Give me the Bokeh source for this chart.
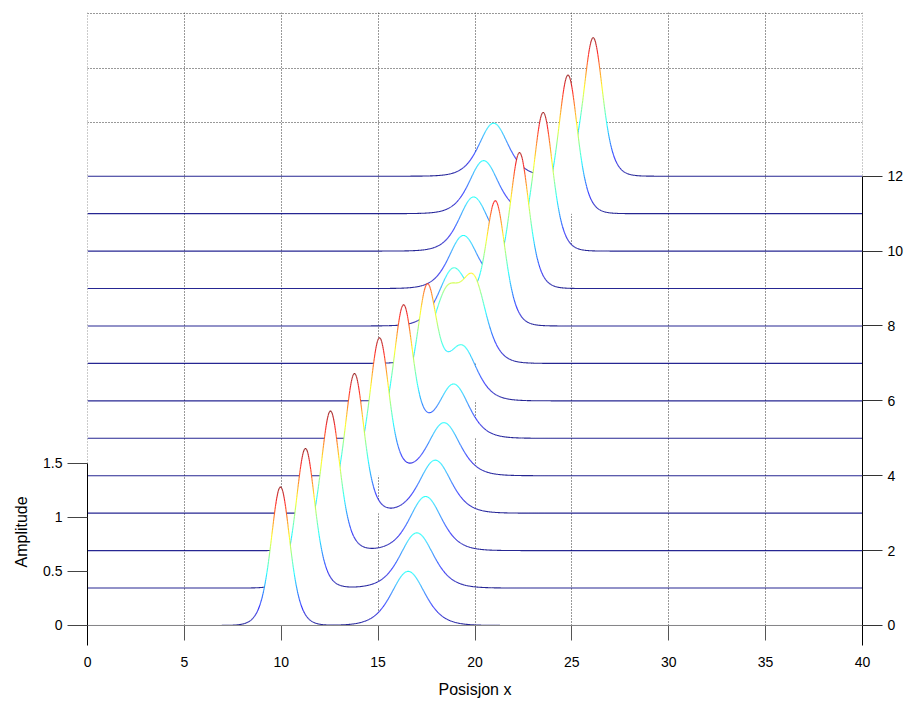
import numpy as np
from bokeh.plotting import figure
from bokeh.models import Range1d, LinearAxis, FixedTicker, ColumnDataSource, Span, Title
from bokeh.embed import file_html
from bokeh.resources import INLINE

# ---------------- data ----------------
rows = list(range(13))
# tall, fast pulse (per row): centre, height, width
tall_pos = [9.96, 11.25, 12.54, 13.78, 15.07, 16.31, 17.53, 19.95, 21.06, 22.30, 23.52, 24.80, 26.10]
tall_amp = [1.28, 1.29, 1.29, 1.29, 1.27, 1.22, 1.03, 0.70, 1.13, 1.25, 1.28, 1.28, 1.28]
tall_width = [0.66, 0.66, 0.66, 0.66, 0.66, 0.66, 0.66, 0.85, 0.68, 0.66, 0.66, 0.66, 0.66]
# small, slow pulse (per row): centre, height, width
small_pos = [16.55, 17.00, 17.45, 17.95, 18.40, 18.90, 19.33, 18.55, 18.90, 19.40, 19.93, 20.45, 20.96]
small_amp = [0.50, 0.51, 0.50, 0.49, 0.49, 0.50, 0.50, 0.62, 0.53, 0.49, 0.50, 0.49, 0.49]
small_width = [1.15, 1.15, 1.10, 1.10, 1.10, 1.05, 1.00, 0.95, 1.00, 1.00, 1.00, 1.00, 1.00]

x_ticks = [0, 5, 10, 15, 20, 25, 30, 35, 40]
amp_ticks = [0, 0.5, 1.0, 1.5]
amp_tick_labels = ["0", "0.5", "1", "1.5"]
row_ticks = [0, 2, 4, 6, 8, 10, 12]
row_step = 0.346      # vertical offset between rows, in amplitude units
color_max = 1.30      # top of colour scale

# ---------------- figure ----------------
Y_MIN, Y_MAX = -0.185, 5.665
FONT = "Liberation Sans"

p = figure(width=906, height=702,
           x_range=Range1d(-0.001, 40.001), y_range=Range1d(Y_MIN, Y_MAX),
           output_backend="svg", toolbar_location=None,
           min_border_left=87, min_border_right=44,
           min_border_top=12, min_border_bottom=57)
p.outline_line_color = None
p.background_fill_color = "white"
p.border_fill_color = "white"

# grids (dotted)
p.xgrid.ticker = FixedTicker(ticks=x_ticks)
p.xgrid.grid_line_color = "#333333"
p.xgrid.grid_line_dash = "1 2"
p.xgrid.cross_bounds = (0, Y_MAX)
back = rows[-1] * row_step
p.ygrid.ticker = FixedTicker(ticks=[back + z for z in amp_ticks[1:]])
p.ygrid.grid_line_color = "#333333"
p.ygrid.grid_line_dash = "1 2"

# x axis: ticks drawn upward from frame bottom so they hang below amplitude 0
xa = p.xaxis[0]
xa.ticker = FixedTicker(ticks=x_ticks)
xa.axis_line_color = None
xa.major_tick_in = 20
xa.major_tick_out = -5
xa.minor_tick_out = 0
xa.minor_tick_in = 0
xa.major_tick_line_color = "#555555"
xa.major_label_text_font = FONT
xa.major_label_text_font_size = "14px"
xa.major_label_text_color = "black"
xa.major_label_standoff = 11
xa.axis_label = "Posisjon x"
xa.axis_label_text_font = FONT
xa.axis_label_text_font_size = "16px"
xa.axis_label_text_font_style = "normal"
xa.axis_label_text_color = "black"
xa.axis_label_standoff = 11

# gray base line at amplitude 0
p.add_layout(Span(location=0, dimension="width", line_color="#888888", line_width=1))

# left amplitude axis
ya = p.yaxis[0]
ya.ticker = FixedTicker(ticks=amp_ticks)
ya.major_label_overrides = {t: s for t, s in zip(amp_ticks, amp_tick_labels)}
ya.bounds = (Y_MIN, amp_ticks[-1])
ya.major_tick_out = 20
ya.major_tick_in = 0
ya.minor_tick_out = 0
ya.minor_tick_in = 0
ya.axis_line_color = "black"
ya.major_tick_line_color = "#444444"
ya.major_label_text_font = FONT
ya.major_label_text_font_size = "14px"
ya.major_label_text_color = "black"
ya.major_label_standoff = 5

p.add_layout(Title(text="Amplitude", align="left", offset=78,
                   text_font=FONT, text_font_size="16px", text_font_style="normal",
                   text_color="black", standoff=21), "left")

# right row axis
p.extra_y_ranges = {"rows": Range1d(Y_MIN / row_step, Y_MAX / row_step)}
ra = LinearAxis(y_range_name="rows", ticker=FixedTicker(ticks=row_ticks),
                bounds=(Y_MIN / row_step, row_ticks[-1]),
                major_tick_out=20, major_tick_in=0, minor_tick_out=0, minor_tick_in=0,
                axis_line_color="black", major_tick_line_color="#333333",
                major_label_text_font=FONT, major_label_text_font_size="14px",
                major_label_text_color="black", major_label_standoff=5)
p.add_layout(ra, "right")

# jet colour map
t = np.linspace(0, 1, 256)
r_ = np.clip(1.5 - np.abs(4 * t - 3), 0, 1)
g_ = np.clip(1.5 - np.abs(4 * t - 2), 0, 1)
b_ = np.clip(1.5 - np.abs(4 * t - 1), 0, 1)
jet = ["#%02x%02x%02x" % (int(a * 255), int(b * 255), int(c * 255)) for a, b, c in zip(r_, g_, b_)]

xs = np.linspace(0, 40, 2001)
for r in reversed(rows):
    base = r * row_step
    f = (tall_amp[r] / np.cosh((xs - tall_pos[r]) / tall_width[r]) ** 2
         + small_amp[r] / np.cosh((xs - small_pos[r]) / small_width[r]) ** 2)
    p.varea(x=xs, y1=np.full_like(xs, base), y2=base + f, fill_color="white")
    mid = 0.5 * (f[:-1] + f[1:])
    idx = np.clip(np.round(mid / color_max * 255).astype(int), 0, 255)
    breaks = np.flatnonzero(np.diff(idx)) + 1
    starts = np.concatenate([[0], breaks])
    ends = np.concatenate([breaks, [len(mid)]])
    mxs, mys, cols = [], [], []
    for s, e in zip(starts, ends):
        mxs.append(xs[s:e + 1].tolist())
        mys.append((base + f[s:e + 1]).tolist())
        cols.append(jet[idx[s]])
    src = ColumnDataSource(dict(xs=mxs, ys=mys, c=cols))
    p.multi_line("xs", "ys", line_color="c", line_width=1.1, line_alpha=0.85, source=src)

open("out.html", "w").write(file_html(p, INLINE))
